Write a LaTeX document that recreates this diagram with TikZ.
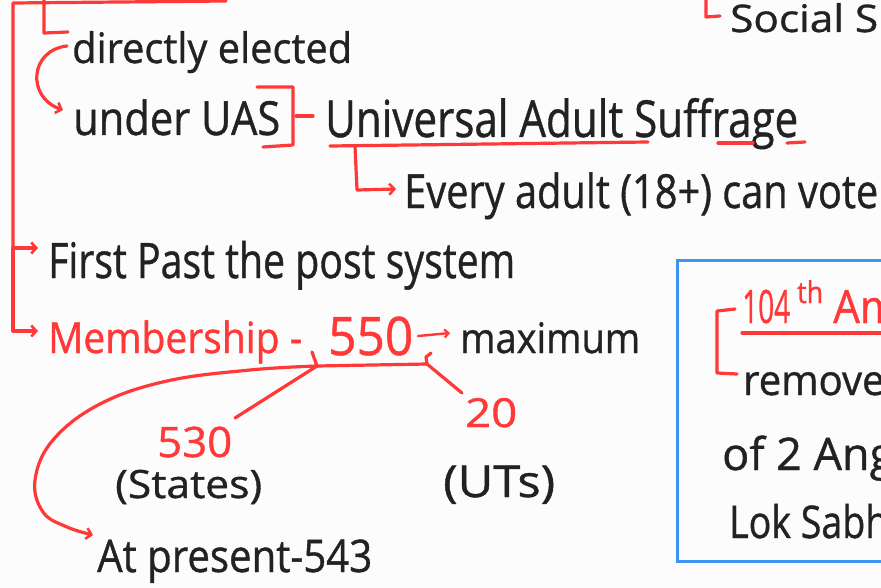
\documentclass[tikz,border=0pt]{standalone}
\usepackage{fontspec}
\setmainfont{Open Sans}[FakeBold=0.9]
\usepackage{graphicx}
\usetikzlibrary{arrows.meta}
\definecolor{redc}{HTML}{FF3838}
\definecolor{ink}{HTML}{222222}
\definecolor{boxblue}{HTML}{3D94F0}
\definecolor{bg}{HTML}{FCFCFC}
\newcommand\fs[1]{\fontsize{#1}{#1}\selectfont}
\newcommand\fw[2]{\resizebox{#1pt}{\height}{#2}}
\tikzset{
  txt/.style={inner sep=0pt, anchor=base west, text=ink},
  rtxt/.style={txt, text=redc},
  redl/.style={draw=redc, line width=3.2pt, line cap=round, line join=round},
  arr/.style={redl, -{Straight Barb[length=5pt,width=11pt,line width=2.6pt]}},
  sarr/.style={redl, line width=2.4pt, -{Straight Barb[length=4pt,width=8pt,line width=2.2pt]}},
  bluebox/.style={draw=boxblue, line width=3pt}
}
\begin{document}
\begin{tikzpicture}[x=1pt,y=-1pt]
\useasboundingbox (0,0) rectangle (881,588);
\clip (0,0) rectangle (881,588);
\fill[bg] (0,0) rectangle (881,588);

% ---- text ----
\node[txt,font=\fs{38}] (social) at (730,32) {\fw{148}{Social S}};
\node[txt,font=\fs{42}] (direct) at (72,63) {\fw{280}{directly elected}};
\node[txt,font=\fs{47}] (uas) at (73,135) {\fw{207}{under UAS}};
\node[txt,font=\fs{51}] (univ) at (325,137) {\fw{473}{Universal Adult Suffrage}};
\node[txt,font=\fs{47}] (every) at (404,208) {\fw{474}{Every adult (18+) can vote}};
\node[txt,font=\fs{49}] (fptp) at (48,278) {\fw{467}{First Past the post system}};
\node[rtxt,font=\fs{43}] (memb) at (48,353) {\fw{254}{Membership -}};
\node[rtxt,font=\fs{53}] (n550) at (328,355) {\fw{85}{550}};
\node[txt,font=\fs{42}] (maxi) at (460,353) {\fw{180}{maximum}};
\node[rtxt,font=\fs{42}] (n530) at (157,457) {\fw{75}{530}};
\node[rtxt,font=\fs{40}] (n20) at (465,427) {\fw{52}{20}};
\node[txt,font=\fs{39}] (states) at (115,498) {\fw{147}{(States)}};
\node[txt,font=\fs{44}] (uts) at (443,497) {\fw{112}{(UTs)}};
\node[txt,font=\fs{45}] (present) at (97,572) {\fw{275}{At present-543}};
% box text
\node[rtxt,font=\fs{46}] (n104) at (742,323) {\fw{48}{104}};
\node[rtxt,font=\fs{30}] (th) at (797,303) {\fw{26}{th}};
\node[rtxt,font=\fs{46}] (am) at (833,323) {\fw{66}{Am}};
\node[txt,font=\fs{42}] (removed) at (743,395) {\fw{166}{removed}};
\node[txt,font=\fs{45}] (of2) at (722,470) {\fw{172}{of 2 Ang}};
\node[txt,font=\fs{45}] (lok) at (729,538) {\fw{180}{Lok Sabha}};

% ---- coordinates ----
\coordinate (topA) at (226,1);
\coordinate (topB) at (13,3);
\coordinate (fptpArr) at (38,248);
\coordinate (membArr) at (38,331);
\coordinate (curlS) at (67,46);
\coordinate (curlE) at (63,110);
\coordinate (uasTop) at (257,87);
\coordinate (uasBot) at (263,147);
\coordinate (ulL) at (330,146);
\coordinate (ulR) at (648,142);
\coordinate (brS) at (355,146);
\coordinate (brE) at (396,189);
\coordinate (b550L) at (317,366);
\coordinate (b550R) at (427,364);
\coordinate (to530) at (235,418);
\coordinate (to20) at (462,393);
\coordinate (maxArr) at (450,333);

% ---- red connectors ----
\draw[redl] (topA) -- (topB) -- (13,248);
\draw[arr] (13,248) -- (fptpArr);
\draw[arr] (13,248) -- (13,331) -- (membArr);
\draw[redl] (44,0) -- (44,33) -- (68,32);
\draw[arr] (curlS) .. controls (30,50) and (26,97) .. (curlE);
\draw[redl] (uasTop) -- (293,87) -- (293,145) -- (uasBot);
\draw[redl] (296,116) -- (313,116);
\draw[redl] (ulL) -- (ulR);
\draw[redl] (718,143) -- (753,143);
\draw[redl] (787,143) -- (805,142);
\draw[arr] (brS) -- (357,190) -- (brE);
\draw[sarr] (418,336) -- (maxArr);
\draw[redl] (312,352) -- (b550L) -- (b550R) -- (426,357) -- (431,353);
\draw[redl] (b550L) -- (to530);
\draw[redl] (b550R) -- (to20);
\draw[arr] plot[smooth, tension=0.65] coordinates {(b550L) (250,370) (167,381) (100,404) (53,440) (35,480) (43,512) (67,527) (93,535)};

% top-right corner mark
\draw[redl] (706,0) -- (706,17) -- (720,16);

% ---- blue box ----
\draw[bluebox] (677,261) rectangle (900,561);
\draw[redl] (735,309) -- (717,311) -- (717,373) -- (737,374);
\draw[redl] (742,333) -- (900,333);
\end{tikzpicture}
\end{document}
